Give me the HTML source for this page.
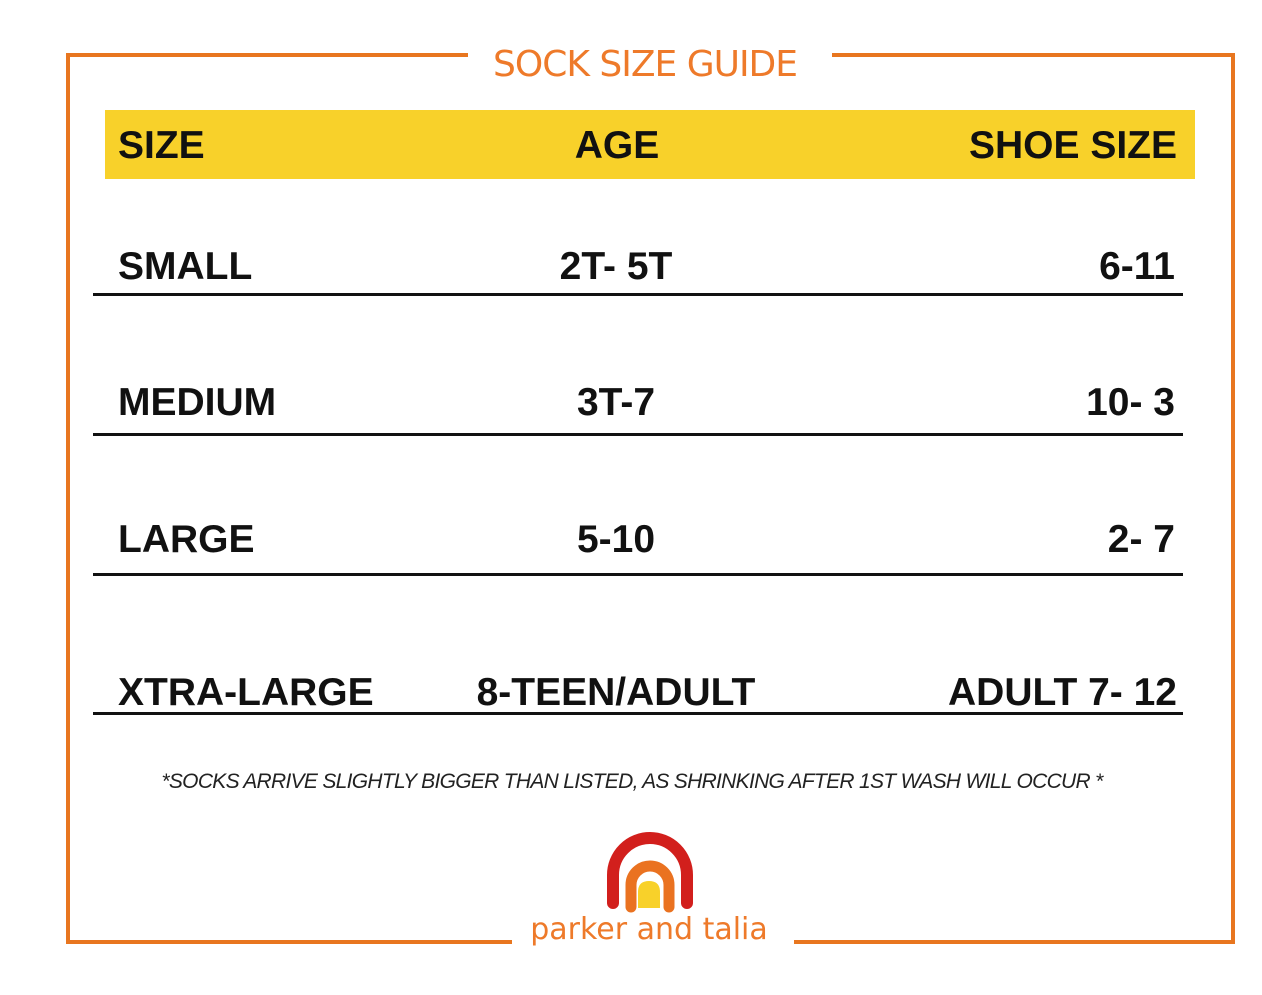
<!DOCTYPE html>
<html><head><style>
body{margin:0;width:1262px;height:995px;background:#fff;position:relative;overflow:hidden;font-family:"Liberation Sans",sans-serif}
.a{position:absolute}
.t{position:absolute;font-weight:bold;font-size:39px;color:#111;line-height:1;white-space:nowrap}
.l{position:absolute;left:93px;width:1090px;height:3px;background:#111}
.c{transform:translateX(-50%)}
.r{transform:translateX(-100%)}
</style></head><body>
<div class="a" style="left:66px;top:53px;width:1161px;height:883px;border:4px solid #e8761f"></div>
<div class="a" style="left:468px;top:45px;width:364px;height:20px;background:#fff"></div>
<div class="a" style="left:512px;top:926px;width:282px;height:20px;background:#fff"></div>
<div class="a" style="left:493px;top:44px;font-size:36px;color:#ee7a2a;font-family:'Comic Sans MS','DejaVu Sans',sans-serif;letter-spacing:-1px">SOCK SIZE GUIDE</div>
<div class="a" style="left:105px;top:110px;width:1090px;height:69px;background:#f8d12a"></div>
<div class="t" style="left:118px;top:126px">SIZE</div>
<div class="t c" style="left:617px;top:126px">AGE</div>
<div class="t r" style="left:1177px;top:126px">SHOE SIZE</div>

<div class="t" style="left:118px;top:247px">SMALL</div>
<div class="t c" style="left:616px;top:247px">2T- 5T</div>
<div class="t r" style="left:1175px;top:247px">6-11</div>
<div class="l" style="top:293px"></div>

<div class="t" style="left:118px;top:383px">MEDIUM</div>
<div class="t c" style="left:616px;top:383px">3T-7</div>
<div class="t r" style="left:1175px;top:383px">10- 3</div>
<div class="l" style="top:433px"></div>

<div class="t" style="left:118px;top:520px">LARGE</div>
<div class="t c" style="left:616px;top:520px">5-10</div>
<div class="t r" style="left:1175px;top:520px">2- 7</div>
<div class="l" style="top:573px"></div>

<div class="t" style="left:118px;top:673px">XTRA-LARGE</div>
<div class="t c" style="left:616px;top:673px">8-TEEN/ADULT</div>
<div class="t r" style="left:1177px;top:673px">ADULT 7- 12</div>
<div class="l" style="top:712px"></div>

<div class="a c" style="left:632px;top:770px;font-size:21px;font-style:italic;color:#222;white-space:nowrap;letter-spacing:-0.7px">*SOCKS ARRIVE SLIGHTLY BIGGER THAN LISTED, AS SHRINKING AFTER 1ST WASH WILL OCCUR *</div>

<svg class="a" style="left:0;top:0" width="1262" height="995">
<path d="M613 903 L613 875 A37 37 0 0 1 687 875 L687 903" fill="none" stroke="#d21f1c" stroke-width="12" stroke-linecap="round"/>
<path d="M631 907 L631 885 A19 19 0 0 1 669 885 L669 907" fill="none" stroke="#ea7220" stroke-width="11" stroke-linecap="round"/>
<path d="M638 908 L638 892 Q638 881 649 881 Q660 881 660 892 L660 908 Z" fill="#f8d12a"/>
</svg>
<div class="a c" style="left:649px;top:912px;font-size:30px;color:#ee7a2a;font-family:'Comic Sans MS','DejaVu Sans',sans-serif;white-space:nowrap">parker and talia</div>
</body></html>
